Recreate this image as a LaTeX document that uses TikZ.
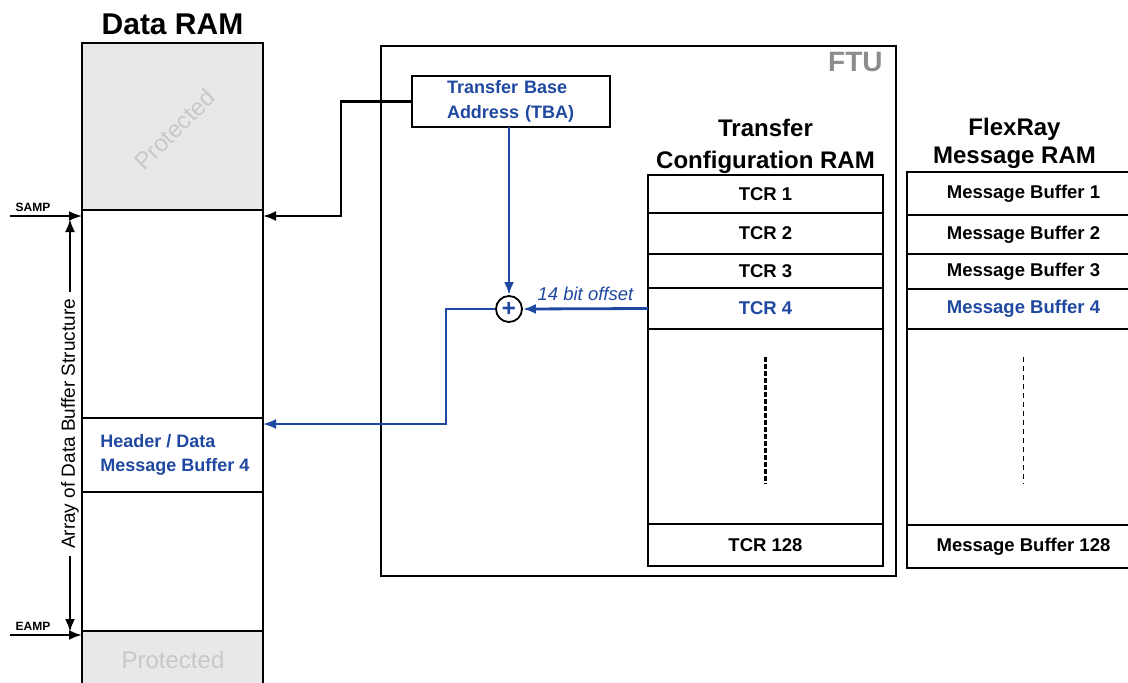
\documentclass[tikz,border=0pt]{standalone}
\usepackage{fontspec}
\setmainfont{Liberation Sans}
\usetikzlibrary{positioning,calc}
\usetikzlibrary{arrows.meta}
\definecolor{ftublue}{RGB}{31,72,160}
\definecolor{protfill}{RGB}{232,232,232}
\definecolor{protink}{RGB}{200,200,200}
\definecolor{ftuink}{RGB}{140,140,140}
\tikzset{
  every picture/.style={
    thick,
    >={Latex[width=10pt, length=13pt]}
  },
  ramcell/.style={
    draw, line width=2.2pt, anchor=north west,
    inner sep=0pt, outer sep=0pt
  },
  rowtext/.style={
    font=\fontsize{18.5}{22}\selectfont\bfseries
  },
  ramtitle/.style={
    align=center, inner sep=0pt
  },
  bluelink/.style={
    draw=ftublue, line width=2.8pt, ->
  },
  bluethin/.style={
    draw=ftublue, line width=2pt, ->
  },
  tagtext/.style={
    font=\fontsize{12}{13}\selectfont\bfseries, inner sep=0pt
  }
}
\begin{document}
\begin{tikzpicture}[x=1pt, y=-1pt]
      \useasboundingbox (0,0) rectangle (1128,683);
      % Data RAM column
      \node[ramcell, fill=protfill, minimum width=181pt, minimum height=167pt] (protTop) at (82,43) {};
      \node[ramcell, minimum width=181pt, minimum height=208pt] (upperArr) at (82,210) {};
      \node[ramcell, minimum width=181pt, minimum height=74pt] (hdr) at (82,418) {};
      \node[ramcell, minimum width=181pt, minimum height=139pt] (lowerArr) at (82,492) {};
      \node[ramcell, fill=protfill, minimum width=181pt, minimum height=80pt] (protBot) at (82,631) {};
      \node[anchor=west, align=left, inner sep=0pt, text=ftublue, font=\fontsize{18}{24}\selectfont\bfseries]
            (hdrTxt) at ([xshift=18pt]hdr.west) {Header / Data\\Message Buffer 4};
      \node[ramtitle, font=\fontsize{30}{32}\selectfont\bfseries, above=8pt of protTop] (dataTitle) {Data RAM};
      \node[rotate=45, text=protink, font=\fontsize{24}{28}\selectfont] (protTopTxt) at ([xshift=2pt, yshift=-3pt]protTop.center) {Protected};
      \node[text=protink, font=\fontsize{24}{28}\selectfont] (protBotTxt) at (173,660) {Protected};
      % start / end markers
      \coordinate (sampPt) at ([yshift=-6pt]upperArr.north west);
      \coordinate (eampPt) at ([yshift=-4pt]protBot.north west);
      \draw[->, line width=2pt] ([xshift=-72pt]sampPt) -- (sampPt);
      \draw[->, line width=2.4pt] ([xshift=-72pt]eampPt) -- (eampPt);
      \node[tagtext] (sampTxt) at (33,207) {SAMP};
      \node[tagtext] (eampTxt) at (33,626) {EAMP};
      \node[rotate=90, font=\fontsize{19}{22}\selectfont, inner sep=7pt] (arrayTxt) at (70,424) {Array of Data Buffer Structure};
      \draw[->, line width=2.4pt, shorten >=3pt] (arrayTxt.east) -- (arrayTxt.east |- sampPt);
      \draw[->, line width=2.4pt, shorten >=3pt] (arrayTxt.west) -- (arrayTxt.west |- eampPt);
      % FTU
      \node[ramcell, minimum width=515pt, minimum height=530pt] (ftu) at (381,46) {};
      \node[font=\fontsize{28}{30}\selectfont\bfseries, text=ftuink, anchor=north east, inner sep=0pt] (ftuTxt)
            at ([xshift=-13pt, yshift=-6pt]ftu.north east) {FTU};
      \node[ramcell, minimum width=198pt, minimum height=51pt, text width=128pt, align=left,
            text=ftublue, font=\fontsize{18}{25}\selectfont\bfseries] (tba) at (412,76) {Transfer Base\\Address (TBA)};
      \node[circle, draw, line width=1.8pt, minimum size=26pt, inner sep=0pt, text=ftublue,
            font=\fontsize{24}{24}\selectfont\bfseries] (sum) at (509,309) {+};
      % Transfer Configuration RAM
      \node[ramcell, rowtext, minimum width=235pt, minimum height=38pt] (tcr1) at (648,175) {TCR 1};
      \node[ramcell, rowtext, minimum width=235pt, minimum height=41pt, below=0pt of tcr1] (tcr2) {TCR 2};
      \node[ramcell, rowtext, minimum width=235pt, minimum height=34pt, below=0pt of tcr2] (tcr3) {TCR 3};
      \node[ramcell, rowtext, minimum width=235pt, minimum height=41pt, below=0pt of tcr3, text=ftublue] (tcr4) {TCR 4};
      \node[ramcell, minimum width=235pt, minimum height=195pt, below=0pt of tcr4] (tcrGap) {};
      \node[ramcell, rowtext, minimum width=235pt, minimum height=42pt, below=0pt of tcrGap] (tcr128) {TCR 128};
      \node[ramtitle, font=\fontsize{24}{32}\selectfont\bfseries, above=1pt of tcr1] (tcrTitle) {Transfer\\Configuration RAM};
      \draw[line width=3.2pt, dash pattern=on 5pt off 2pt] ([yshift=-28pt]tcrGap.north) -- ([yshift=40pt]tcrGap.south);
      % FlexRay Message RAM
      \node[ramcell, rowtext, minimum width=233pt, minimum height=43pt] (msg1) at (907,172) {Message Buffer 1};
      \node[ramcell, rowtext, minimum width=233pt, minimum height=39pt, below=0pt of msg1] (msg2) {Message Buffer 2};
      \node[ramcell, rowtext, minimum width=233pt, minimum height=35pt, below=0pt of msg2] (msg3) {Message Buffer 3};
      \node[ramcell, rowtext, minimum width=233pt, minimum height=40pt, below=0pt of msg3, text=ftublue] (msg4) {Message Buffer 4};
      \node[ramcell, minimum width=233pt, minimum height=196pt, below=0pt of msg4] (msgGap) {};
      \node[ramcell, rowtext, minimum width=233pt, minimum height=43pt, below=0pt of msgGap] (msg128) {Message Buffer 128};
      \node[ramtitle, font=\fontsize{24}{28}\selectfont\bfseries, above=3pt of msg1, xshift=-9pt] (msgTitle) {FlexRay\\Message RAM};
      \draw[line width=1.4pt, dash pattern=on 5pt off 4pt] ([yshift=-28pt]msgGap.north) -- ([yshift=41pt]msgGap.south);
      % connectors
      \coordinate (sampIn) at ([yshift=-6pt]upperArr.north east);
      \coordinate (hdrIn) at ([yshift=-6pt]hdr.north east);
      \draw[->, line width=2.4pt] (tba.west) -| ([xshift=78pt]sampIn) -- (sampIn);
      \draw[bluelink] (sum |- tba.south) -- (sum.north);
      \draw[bluelink] (tcr4.west) -- node[above=3pt, text=ftublue, font=\fontsize{18.5}{20}\selectfont\itshape] (offsetTxt) {14 bit offset} (sum.east);
      \draw[bluethin] (sum.west) -| ([xshift=183pt]hdrIn) -- (hdrIn);
    \end{tikzpicture}
\end{document}
